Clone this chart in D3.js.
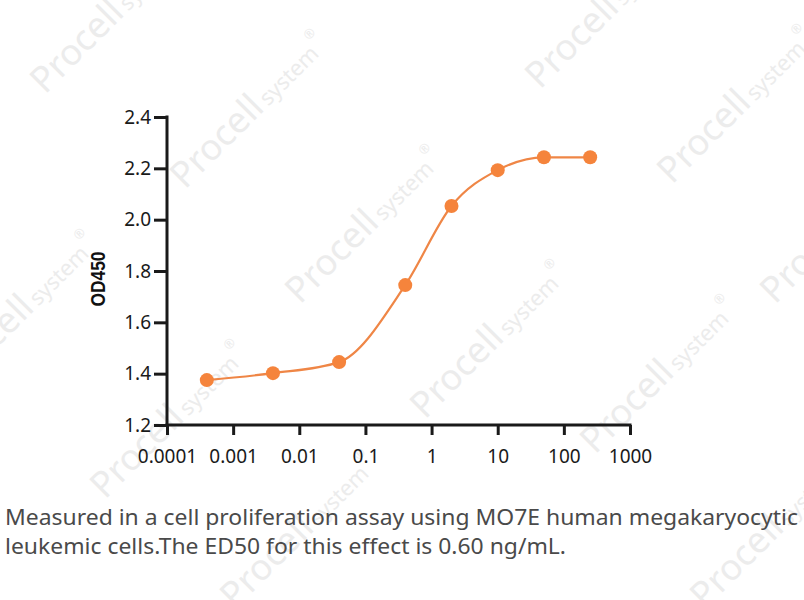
<!DOCTYPE html>
<html><head><meta charset="utf-8">
<script src="https://cdn.jsdelivr.net/npm/d3@7"></script>
<style>html,body{margin:0;padding:0;background:#fff;}svg{display:block;}</style>
</head><body>
<script>
// Data
const concentrations = [0.0004, 0.004, 0.04, 0.4, 2, 10, 50, 250];
const od450 = [1.375, 1.402, 1.445, 1.745, 2.053, 2.193, 2.243, 2.243];
const xTicks = [0.0001, 0.001, 0.01, 0.1, 1, 10, 100, 1000];
const xTickLabels = ["0.0001", "0.001", "0.01", "0.1", "1", "10", "100", "1000"];
const yTicks = [1.2, 1.4, 1.6, 1.8, 2.0, 2.2, 2.4];
const yLabel = "OD450";
const captionLines = [
  "Measured in a cell proliferation assay using MO7E human megakaryocytic",
  "leukemic cells.The ED50 for this effect is 0.60 ng/mL."
];
const watermarks = [
  [45, 95], [185, 190], [540, 90], [672, 185], [300, 305], [425, 420],
  [-45, 390], [105, 500], [595, 455], [775, 305], [235, 610], [705, 610]
];

const W = 804, H = 600;
const svg = d3.select("body").append("svg").attr("width", W).attr("height", H);

// watermarks
const wm = svg.append("g").attr("fill", "#ececec");
watermarks.forEach(([x, y]) => {
  const g = wm.append("g").attr("transform", `translate(${x},${y}) rotate(-45)`);
  const t = g.append("text").attr("font-family", "Noto Sans, sans-serif");
  t.append("tspan").attr("font-size", 36).text("Procell");
  t.append("tspan").attr("font-size", 22).attr("dx", 4).text("system");
  t.append("tspan").attr("font-size", 13).attr("dy", -18).attr("dx", 2).text("®");
});

const x = d3.scaleLog().domain([0.0001, 1000]).range([167, 630]);
const y = d3.scaleLinear().domain([1.2, 2.4]).range([425, 117]);

const color = "#F5843C";

// curve
const line = d3.line().x((d, i) => x(concentrations[i])).y(d => y(d)).curve(d3.curveMonotoneX);
svg.append("path").datum(od450).attr("d", line)
  .attr("fill", "none").attr("stroke", "#EF8646").attr("stroke-width", 2.2);

svg.append("g").selectAll("circle").data(od450).join("circle")
  .attr("cx", (d, i) => x(concentrations[i])).attr("cy", d => y(d))
  .attr("r", 7).attr("fill", color);

// axes
const xAxis = d3.axisBottom(x).tickValues(xTicks)
  .tickFormat((d, i) => xTickLabels[i]).tickSize(10).tickPadding(15).tickSizeOuter(0);
const gx = svg.append("g").attr("transform", "translate(0,425)").call(xAxis);
const yAxis = d3.axisLeft(y).tickValues(yTicks).tickFormat(d3.format(".1f"))
  .tickSize(13).tickPadding(3).tickSizeOuter(0);
const gy = svg.append("g").attr("transform", "translate(167,0)").call(yAxis);

[gx, gy].forEach(g => {
  g.select(".domain").attr("stroke", "#1a1a1a").attr("stroke-width", 3);
  g.selectAll(".tick line").attr("stroke", "#1a1a1a").attr("stroke-width", 3);
  g.selectAll("text").attr("font-family", "Noto Sans, sans-serif")
    .attr("font-size", 19).attr("fill", "#1a1a1a");
});
gx.select(".domain").attr("d", "M165.5,0H631.5");
gy.select(".domain").attr("d", "M0,115.5V426.5");

svg.append("text").attr("transform", "translate(105,279) rotate(-90)")
  .attr("text-anchor", "middle").attr("font-family", "Liberation Sans, Arial, sans-serif")
  .attr("font-weight", "bold").attr("font-size", 21).attr("fill", "#111")
  .attr("textLength", 55).attr("lengthAdjust", "spacingAndGlyphs").text(yLabel);

// caption
const capLen = [793, 561];
captionLines.forEach((s, i) => {
  svg.append("text").attr("x", 5).attr("y", 525 + i * 29)
    .attr("font-family", "Noto Sans, sans-serif").attr("font-size", 22)
    .attr("fill", "#4a4a4a").attr("textLength", capLen[i])
    .attr("lengthAdjust", "spacingAndGlyphs").text(s);
});
</script>
</body></html>
